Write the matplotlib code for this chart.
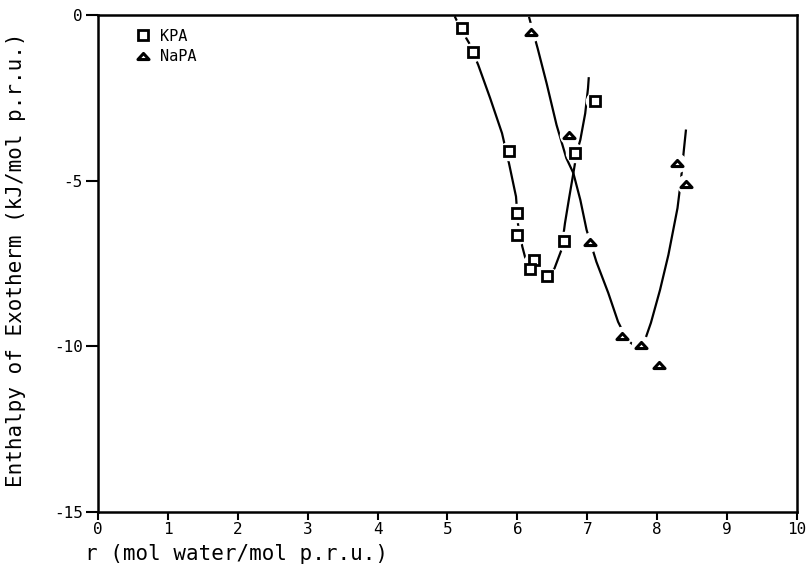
import numpy as np
import matplotlib.pyplot as plt
from matplotlib.path import Path

# measured points
kpa_r = [5.21, 5.37, 5.88, 6.00, 6.00, 6.24, 6.18, 6.43, 6.66, 6.83, 7.11]
kpa_h = [-0.40, -1.11, -4.11, -5.99, -6.63, -7.40, -7.68, -7.89, -6.82, -4.18, -2.60]

napa_r = [6.20, 6.74, 7.04, 7.49, 7.77, 8.03, 8.29, 8.41]
napa_h = [-0.52, -3.63, -6.85, -9.69, -9.95, -10.57, -4.48, -5.09]

# fitted curves
kpa_fit_r = [5.11, 5.19, 5.31, 5.44, 5.61, 5.78, 5.88, 5.98, 6.01, 6.07, 6.11, 6.21,
             6.32, 6.42, 6.53, 6.63, 6.68, 6.74, 6.80, 6.85, 6.90, 6.97, 7.01, 7.02]
kpa_fit_h = [-0.07, -0.42, -0.85, -1.51, -2.51, -3.57, -4.48, -5.48, -6.34, -6.99, -7.31, -7.64,
             -7.82, -7.85, -7.65, -7.09, -6.29, -5.52, -4.78, -4.14, -3.77, -2.97, -2.21, -1.91]

napa_fit_r = [6.17, 6.29, 6.42, 6.56, 6.70, 6.80, 6.90, 6.99, 7.13, 7.30, 7.44, 7.57,
              7.70, 7.81, 7.91, 8.04, 8.16, 8.29, 8.34, 8.38, 8.41]
napa_fit_h = [-0.09, -1.01, -2.08, -3.32, -4.32, -4.77, -5.58, -6.49, -7.45, -8.39, -9.26, -9.81,
              -10.02, -9.90, -9.29, -8.30, -7.24, -5.83, -4.98, -4.10, -3.49]

xticks = list(range(0, 11))
yticks = [0, -5, -10, -15]

tri = Path([(-1, -0.55), (1, -0.55), (0, 0.55), (-1, -0.55)],
           [Path.MOVETO, Path.LINETO, Path.LINETO, Path.CLOSEPOLY])

mono = 'DejaVu Sans Mono'

fig = plt.figure(figsize=(8.09, 5.70), dpi=100)
ax = fig.add_axes([0.1211, 0.1018, 0.8641, 0.8719])

ax.plot(kpa_fit_r, kpa_fit_h, 'k-', lw=1.6, zorder=1)
ax.plot(napa_fit_r, napa_fit_h, 'k-', lw=1.6, zorder=1)

# white halos so the curves break around the points
ax.plot(kpa_r, kpa_h, 'o', ms=13, color='white', mec='white', zorder=2)
ax.plot(napa_r, napa_h, 'o', ms=13, color='white', mec='white', zorder=2)

ax.plot(kpa_r, kpa_h, 's', ms=6.5, mfc='white', mec='black', mew=2, zorder=3, label='KPA')
ax.plot(napa_r, napa_h, marker=tri, ls='none', ms=8, mfc='white', mec='black', mew=2.2,
        zorder=3, label='NaPA')

ax.set_xlim(0, 10)
ax.set_ylim(-15, 0)
ax.set_xticks(xticks)
ax.set_yticks(yticks)
ax.set_xticklabels([str(t) for t in xticks], family=mono, fontsize=11.5)
ax.set_yticklabels([str(t) for t in yticks], family=mono, fontsize=11.5)
ax.tick_params(axis='x', direction='out', length=6, width=1.5, pad=1)
ax.tick_params(axis='y', direction='out', length=9, width=1.5, pad=2)
for s in ax.spines.values():
    s.set_linewidth(1.8)
    s.set_zorder(4)

ax.legend(loc='upper left', bbox_to_anchor=(0.045, 0.985), frameon=False,
          prop={'family': mono, 'size': 11}, handlelength=1.0, handletextpad=0.6,
          labelspacing=0.35, borderaxespad=0)

fig.text(0.105, 0.028, 'r (mol water/mol p.r.u.)', family=mono, fontsize=15,
         ha='left', va='center')
fig.text(0.02, 0.545, 'Enthalpy of Exotherm (kJ/mol p.r.u.)', family=mono, fontsize=15,
         rotation=90, ha='center', va='center')

fig.savefig('out.png', dpi=100)
